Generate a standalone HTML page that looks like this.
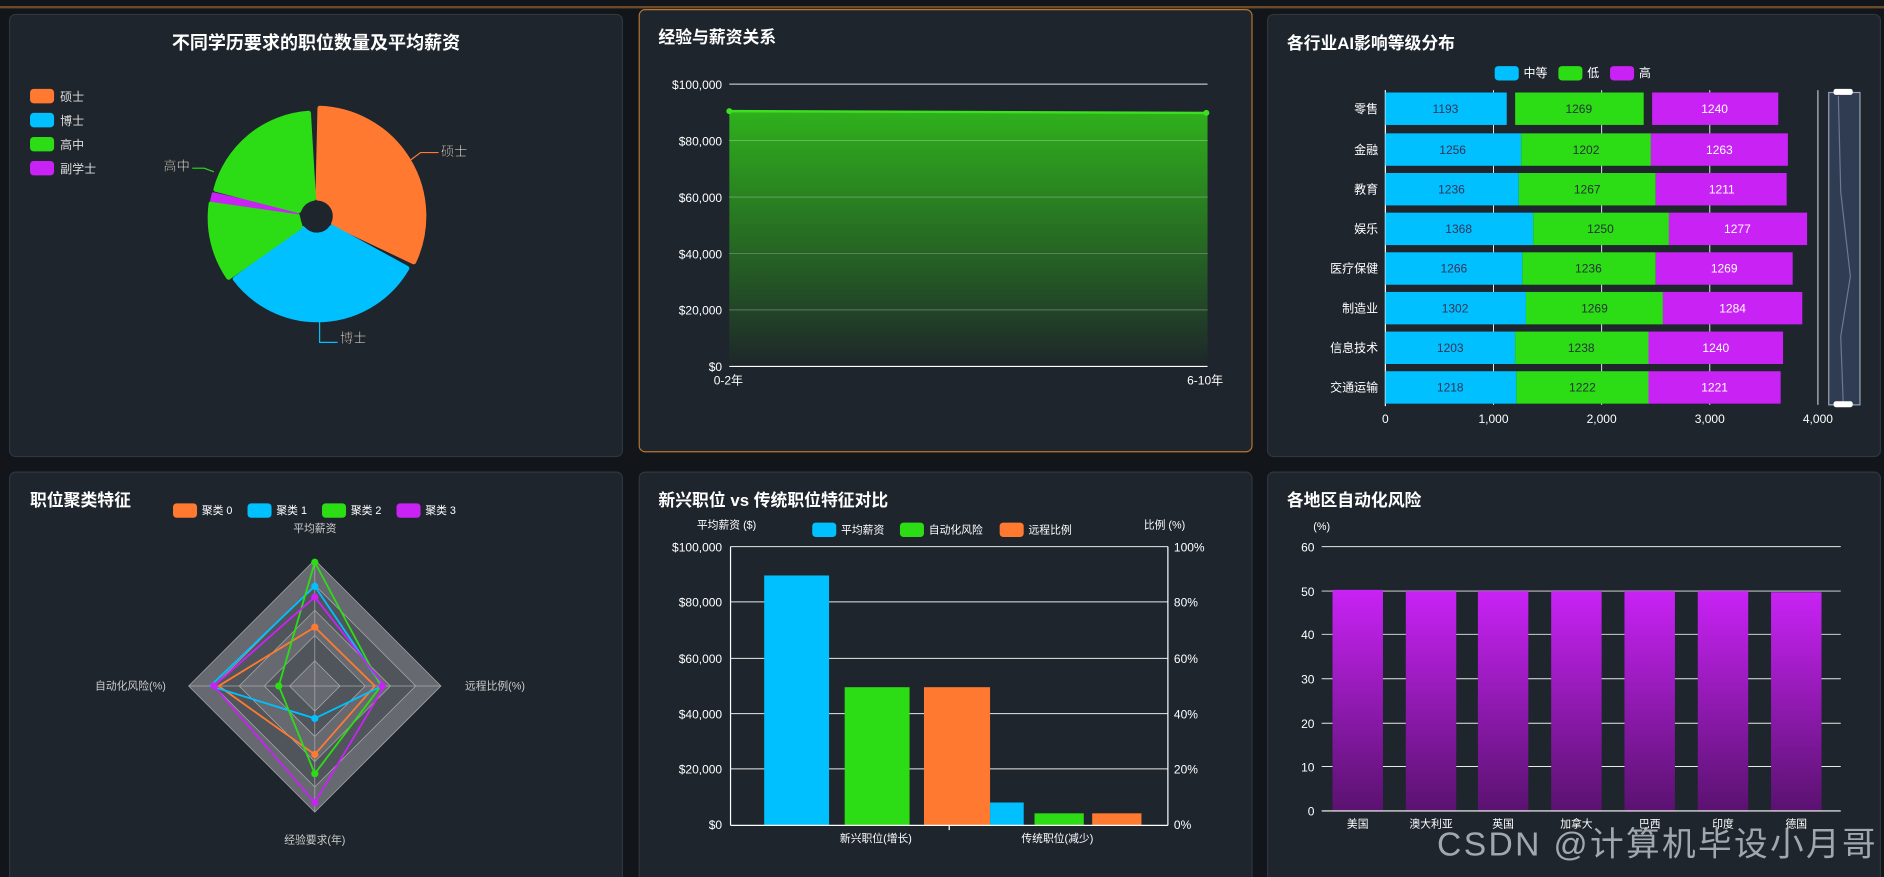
<!DOCTYPE html>
<html><head><meta charset="utf-8"><style>
html,body{margin:0;padding:0;background:#12161b;}
svg{display:block;font-family:"Liberation Sans","Noto Sans CJK SC",sans-serif;}
</style></head><body>
<svg width="1884" height="877" viewBox="0 0 1568 730" preserveAspectRatio="none" xmlns="http://www.w3.org/2000/svg">
<defs>
<linearGradient id="ga" x1="0" y1="0" x2="0" y2="1"><stop offset="0" stop-color="#2fb11c"/><stop offset="1" stop-color="#1e262a"/></linearGradient>
<linearGradient id="gp" x1="0" y1="0" x2="0" y2="1"><stop offset="0" stop-color="#c922f5"/><stop offset="1" stop-color="#5a1270"/></linearGradient>
</defs>
<rect width="1568" height="730" fill="#12161b"/>
<rect x="0" y="5" width="1568" height="2" fill="#6a4a2a"/>
<g fill="#1e252d" stroke="#2e363f" stroke-width="1">
<rect x="8" y="12" width="510" height="368" rx="5"/>
<rect x="1055" y="12" width="510" height="368" rx="5"/>
<rect x="8" y="393" width="510" height="345" rx="5"/>
<rect x="532" y="393" width="510" height="345" rx="5"/>
<rect x="1055" y="393" width="510" height="345" rx="5"/>
</g>
<rect x="532" y="8" width="510" height="368" rx="5" fill="#1e252d" stroke="#b5762e" stroke-width="1"/>

<!-- Panel 1 pie -->
<text x="263" y="41" fill="#fff" font-size="15" font-weight="bold" text-anchor="middle">不同学历要求的职位数量及平均薪资</text>
<g font-size="10" fill="#ddd">
<rect x="25" y="74" width="20" height="12" rx="3" fill="#ff7a30"/><text x="50" y="84">硕士</text>
<rect x="25" y="94" width="20" height="12" rx="3" fill="#00c0ff"/><text x="50" y="104">博士</text>
<rect x="25" y="114" width="20" height="12" rx="3" fill="#2cdc14"/><text x="50" y="124">高中</text>
<rect x="25" y="134" width="20" height="12" rx="3" fill="#c822f5"/><text x="50" y="144">副学士</text>
</g>
<g stroke-linejoin="round" stroke-width="4">
<path d="M264.5,165 L266.2,90 A90,90 0 0 1 344.4,218 L277.6,186.3 A15,15 0 0 0 264.5,165Z" fill="#ff7a30" stroke="#ff7a30"/>
<path d="M276.2,189 L338.7,223.3 A86,86 0 0 1 195.7,232.2 L252.2,190.2 A15,15 0 0 0 276.2,189Z" fill="#00c0ff" stroke="#00c0ff"/>
<path d="M249.9,188.8 L190.2,230.9 A88,88 0 0 1 175.6,169.5 L247.1,178.2Z" fill="#2cdc14" stroke="#2cdc14"/>
<path d="M248.1,177.4 L175.9,167 A88,88 0 0 1 177.3,161 L248.4,176.6Z" fill="#c822f5" stroke="#c822f5" stroke-width="2"/>
<path d="M248.4,175.4 L179.6,157.7 A86,86 0 0 1 256.8,94.2 L261,165Z" fill="#2cdc14" stroke="#2cdc14"/>
</g>
<circle cx="263" cy="180" r="13" fill="#1e252d"/>
<g fill="none" stroke-width="1"><path d="M342,133 L350,127 L365,127" stroke="#ff7a30"/><path d="M266,268 L266,285 L281,285" stroke="#00c0ff"/><path d="M178,143 L170,140 L160,140" stroke="#2cdc14"/></g>
<g font-size="11" fill="#fff" stroke="#222" stroke-width="0.4"><text x="367" y="130">硕士</text><text x="283" y="285">博士</text><text x="136" y="142">高中</text></g>

<!-- Panel 2 -->
<text x="548" y="36" fill="#fff" font-size="14" font-weight="bold">经验与薪资关系</text>
<g stroke="#e8e8e8" stroke-width="0.8"><line x1="607" y1="70" x2="1005" y2="70"/><line x1="607" y1="117" x2="1005" y2="117"/><line x1="607" y1="164" x2="1005" y2="164"/><line x1="607" y1="211" x2="1005" y2="211"/><line x1="607" y1="258" x2="1005" y2="258"/></g>
<path d="M607,92.5 L1005,94 L1005,305 L607,305Z" fill="url(#ga)"/>
<g stroke="#e8e8e8" stroke-width="0.5" opacity="0.5"><line x1="607" y1="117" x2="1005" y2="117"/><line x1="607" y1="164" x2="1005" y2="164"/><line x1="607" y1="211" x2="1005" y2="211"/><line x1="607" y1="258" x2="1005" y2="258"/></g>
<line x1="607" y1="92.5" x2="1005" y2="94" stroke="#3ce020" stroke-width="2"/>
<circle cx="607" cy="92.5" r="2.5" fill="#3ce020"/><circle cx="1004" cy="94" r="2.5" fill="#3ce020"/>
<line x1="607" y1="305" x2="1005" y2="305" stroke="#fff" stroke-width="1"/>
<g font-size="10" fill="#fff" text-anchor="end"><text x="601" y="74">$100,000</text><text x="601" y="121">$80,000</text><text x="601" y="168">$60,000</text><text x="601" y="215">$40,000</text><text x="601" y="262">$20,000</text><text x="601" y="309">$0</text></g>
<g font-size="10" fill="#fff"><text x="594" y="320">0-2年</text><text x="988" y="320">6-10年</text></g>

<!-- Panel 3 -->
<text x="1071" y="41" fill="#fff" font-size="14" font-weight="bold">各行业AI影响等级分布</text>
<g font-size="10" fill="#fff"><rect x="1244" y="55" width="20" height="12" rx="3" fill="#00c0ff"/><text x="1268" y="64">中等</text><rect x="1297" y="55" width="20" height="12" rx="3" fill="#2cdc14"/><text x="1321" y="64">低</text><rect x="1340" y="55" width="20" height="12" rx="3" fill="#c822f5"/><text x="1364" y="64">高</text></g>
<g stroke="#e8e8e8" stroke-width="0.8"><line x1="1243" y1="75" x2="1243" y2="337"/><line x1="1333" y1="75" x2="1333" y2="337"/><line x1="1423" y1="75" x2="1423" y2="337"/><line x1="1513" y1="75" x2="1513" y2="337"/></g>
<line x1="1153" y1="75" x2="1153" y2="338" stroke="#fff"/>
<g font-size="10" text-anchor="middle">
<g transform="translate(0,77)"><rect x="1153" y="0" width="101" height="27" fill="#00c0ff"/><rect x="1261" y="0" width="107" height="27" fill="#2cdc14"/><rect x="1375" y="0" width="105" height="27" fill="#c822f5"/><text x="1203" y="17" fill="#335">1193</text><text x="1314" y="17" fill="#233">1269</text><text x="1427" y="17" fill="#fff">1240</text></g>
<g transform="translate(0,111)"><rect x="1153" y="0" width="113" height="27" fill="#00c0ff"/><rect x="1266" y="0" width="108" height="27" fill="#2cdc14"/><rect x="1374" y="0" width="114" height="27" fill="#c822f5"/><text x="1209" y="17" fill="#335">1256</text><text x="1320" y="17" fill="#233">1202</text><text x="1431" y="17" fill="#fff">1263</text></g>
<g transform="translate(0,144)"><rect x="1153" y="0" width="111" height="27" fill="#00c0ff"/><rect x="1264" y="0" width="114" height="27" fill="#2cdc14"/><rect x="1378" y="0" width="109" height="27" fill="#c822f5"/><text x="1208" y="17" fill="#335">1236</text><text x="1321" y="17" fill="#233">1267</text><text x="1433" y="17" fill="#fff">1211</text></g>
<g transform="translate(0,177)"><rect x="1153" y="0" width="123" height="27" fill="#00c0ff"/><rect x="1276" y="0" width="113" height="27" fill="#2cdc14"/><rect x="1389" y="0" width="115" height="27" fill="#c822f5"/><text x="1214" y="17" fill="#335">1368</text><text x="1332" y="17" fill="#233">1250</text><text x="1446" y="17" fill="#fff">1277</text></g>
<g transform="translate(0,210)"><rect x="1153" y="0" width="114" height="27" fill="#00c0ff"/><rect x="1267" y="0" width="111" height="27" fill="#2cdc14"/><rect x="1378" y="0" width="114" height="27" fill="#c822f5"/><text x="1210" y="17" fill="#335">1266</text><text x="1322" y="17" fill="#233">1236</text><text x="1435" y="17" fill="#fff">1269</text></g>
<g transform="translate(0,243)"><rect x="1153" y="0" width="117" height="27" fill="#00c0ff"/><rect x="1270" y="0" width="114" height="27" fill="#2cdc14"/><rect x="1384" y="0" width="116" height="27" fill="#c822f5"/><text x="1211" y="17" fill="#335">1302</text><text x="1327" y="17" fill="#233">1269</text><text x="1442" y="17" fill="#fff">1284</text></g>
<g transform="translate(0,276)"><rect x="1153" y="0" width="108" height="27" fill="#00c0ff"/><rect x="1261" y="0" width="111" height="27" fill="#2cdc14"/><rect x="1372" y="0" width="112" height="27" fill="#c822f5"/><text x="1207" y="17" fill="#335">1203</text><text x="1316" y="17" fill="#233">1238</text><text x="1428" y="17" fill="#fff">1240</text></g>
<g transform="translate(0,309)"><rect x="1153" y="0" width="109" height="27" fill="#00c0ff"/><rect x="1262" y="0" width="110" height="27" fill="#2cdc14"/><rect x="1372" y="0" width="110" height="27" fill="#c822f5"/><text x="1207" y="17" fill="#335">1218</text><text x="1317" y="17" fill="#233">1222</text><text x="1427" y="17" fill="#fff">1221</text></g>
</g>
<g font-size="10" fill="#fff" text-anchor="end"><text x="1147" y="94">零售</text><text x="1147" y="128">金融</text><text x="1147" y="161">教育</text><text x="1147" y="194">娱乐</text><text x="1147" y="227">医疗保健</text><text x="1147" y="260">制造业</text><text x="1147" y="293">信息技术</text><text x="1147" y="326">交通运输</text></g>
<g font-size="10" fill="#fff" text-anchor="middle"><text x="1153" y="352">0</text><text x="1243" y="352">1,000</text><text x="1333" y="352">2,000</text><text x="1423" y="352">3,000</text><text x="1513" y="352">4,000</text></g>
<rect x="1522" y="77" width="26" height="260" fill="#2f3c52" stroke="#9aa5b5" stroke-width="1"/>
<path d="M1530,80 L1532,160 L1540,230 L1532,280 L1534,334" stroke="#6a7a95" fill="none"/>
<rect x="1526" y="74" width="16" height="5" rx="2" fill="#fff"/><rect x="1526" y="334" width="16" height="5" rx="2" fill="#fff"/>

<!-- Panel 4 radar -->
<text x="25" y="421" fill="#fff" font-size="14" font-weight="bold">职位聚类特征</text>
<g font-size="9" fill="#fff"><rect x="144" y="419" width="20" height="12" rx="3" fill="#ff7a30"/><text x="168" y="428">聚类 0</text><rect x="206" y="419" width="20" height="12" rx="3" fill="#00c0ff"/><text x="230" y="428">聚类 1</text><rect x="268" y="419" width="20" height="12" rx="3" fill="#2cdc14"/><text x="292" y="428">聚类 2</text><rect x="330" y="419" width="20" height="12" rx="3" fill="#c822f5"/><text x="354" y="428">聚类 3</text></g>
<g stroke="#aaa" stroke-width="0.6">
<path d="M262,466 L367,571 L262,676 L157,571Z" fill="#666a70"/>
<path d="M262,487 L346,571 L262,655 L178,571Z" fill="#50555b"/>
<path d="M262,508 L325,571 L262,634 L199,571Z" fill="#666a70"/>
<path d="M262,529 L304,571 L262,613 L220,571Z" fill="#50555b"/>
<path d="M262,550 L283,571 L262,592 L241,571Z" fill="#666a70"/>
<path d="M262,466 V676 M157,571 H367"/>
</g>
<g fill="none" stroke-width="1.5">
<path d="M262,522 L312,571 L262,628 L182,571Z" stroke="#ff7a30"/>
<path d="M262,488 L318,571 L262,598 L175,571Z" stroke="#00c0ff"/>
<path d="M262,468 L317,571 L262,644 L232,571Z" stroke="#2cdc14"/>
<path d="M262,497 L320,571 L262,668 L178,571Z" stroke="#c822f5"/>
</g>
<g><circle cx="262" cy="522" r="3" fill="#ff7a30"/><circle cx="262" cy="628" r="3" fill="#ff7a30"/><circle cx="262" cy="488" r="3" fill="#00c0ff"/><circle cx="262" cy="598" r="3" fill="#00c0ff"/><circle cx="262" cy="468" r="3" fill="#2cdc14"/><circle cx="262" cy="644" r="3" fill="#2cdc14"/><circle cx="232" cy="571" r="3" fill="#2cdc14"/><circle cx="262" cy="497" r="3" fill="#c822f5"/><circle cx="262" cy="668" r="3" fill="#c822f5"/><circle cx="178" cy="571" r="3" fill="#c822f5"/><circle cx="318" cy="571" r="3" fill="#c822f5"/></g>
<g font-size="9" fill="#ccc"><text x="262" y="443" text-anchor="middle">平均薪资</text><text x="387" y="574">远程比例(%)</text><text x="262" y="702" text-anchor="middle">经验要求(年)</text><text x="138" y="574" text-anchor="end">自动化风险(%)</text></g>

<!-- Panel 5 -->
<text x="548" y="421" fill="#fff" font-size="14" font-weight="bold">新兴职位 vs 传统职位特征对比</text>
<g font-size="9" fill="#fff"><text x="580" y="440">平均薪资 ($)</text><text x="952" y="440">比例 (%)</text>
<rect x="676" y="435" width="20" height="12" rx="3" fill="#00c0ff"/><text x="700" y="444">平均薪资</text><rect x="749" y="435" width="20" height="12" rx="3" fill="#2cdc14"/><text x="773" y="444">自动化风险</text><rect x="832" y="435" width="20" height="12" rx="3" fill="#ff7a30"/><text x="856" y="444">远程比例</text></g>
<g stroke="#e8e8e8" stroke-width="0.8"><line x1="608" y1="455" x2="972" y2="455"/><line x1="608" y1="501" x2="972" y2="501"/><line x1="608" y1="548" x2="972" y2="548"/><line x1="608" y1="594" x2="972" y2="594"/><line x1="608" y1="640" x2="972" y2="640"/></g>
<rect x="636" y="479" width="54" height="208" fill="#00c0ff"/><rect x="703" y="572" width="54" height="115" fill="#2cdc14"/><rect x="769" y="572" width="55" height="115" fill="#ff7a30"/>
<rect x="824" y="668" width="28" height="19" fill="#00c0ff"/><rect x="861" y="677" width="41" height="10" fill="#2cdc14"/><rect x="909" y="677" width="41" height="10" fill="#ff7a30"/>
<g stroke="#fff" stroke-width="1"><line x1="608" y1="455" x2="608" y2="687"/><line x1="972" y1="455" x2="972" y2="687"/><line x1="608" y1="687" x2="972" y2="687"/><line x1="790" y1="687" x2="790" y2="691"/></g>
<g font-size="10" fill="#fff" text-anchor="end"><text x="601" y="459">$100,000</text><text x="601" y="505">$80,000</text><text x="601" y="552">$60,000</text><text x="601" y="598">$40,000</text><text x="601" y="644">$20,000</text><text x="601" y="690">$0</text></g>
<g font-size="10" fill="#fff"><text x="977" y="459">100%</text><text x="977" y="505">80%</text><text x="977" y="552">60%</text><text x="977" y="598">40%</text><text x="977" y="644">20%</text><text x="977" y="690">0%</text></g>
<g font-size="9" fill="#fff" text-anchor="middle"><text x="729" y="701">新兴职位(增长)</text><text x="880" y="701">传统职位(减少)</text></g>

<!-- Panel 6 -->
<text x="1071" y="421" fill="#fff" font-size="14" font-weight="bold">各地区自动化风险</text>
<text x="1093" y="441" fill="#fff" font-size="9">(%)</text>
<g stroke="#e8e8e8" stroke-width="0.8"><line x1="1100" y1="455" x2="1532" y2="455"/><line x1="1100" y1="492" x2="1532" y2="492"/><line x1="1100" y1="528" x2="1532" y2="528"/><line x1="1100" y1="565" x2="1532" y2="565"/><line x1="1100" y1="602" x2="1532" y2="602"/><line x1="1100" y1="638" x2="1532" y2="638"/></g>
<g fill="url(#gp)"><rect x="1109" y="491" width="42" height="184"/><rect x="1170" y="492" width="42" height="183"/><rect x="1230" y="492" width="42" height="183"/><rect x="1291" y="492" width="42" height="183"/><rect x="1352" y="492" width="42" height="183"/><rect x="1413" y="492" width="42" height="183"/><rect x="1474" y="493" width="42" height="182"/></g>
<line x1="1100" y1="675" x2="1532" y2="675" stroke="#fff"/>
<g font-size="10" fill="#fff" text-anchor="end"><text x="1094" y="459">60</text><text x="1094" y="496">50</text><text x="1094" y="532">40</text><text x="1094" y="569">30</text><text x="1094" y="606">20</text><text x="1094" y="642">10</text><text x="1094" y="679">0</text></g>
<g font-size="9" fill="#fff" text-anchor="middle"><text x="1130" y="689">美国</text><text x="1191" y="689">澳大利亚</text><text x="1251" y="689">英国</text><text x="1312" y="689">加拿大</text><text x="1373" y="689">巴西</text><text x="1434" y="689">印度</text><text x="1495" y="689">德国</text></g>
<text x="1196" y="712" font-size="28" fill="#cfd3d8" fill-opacity="0.75" textLength="365">CSDN @计算机毕设小月哥</text>
</svg>
</body></html>
